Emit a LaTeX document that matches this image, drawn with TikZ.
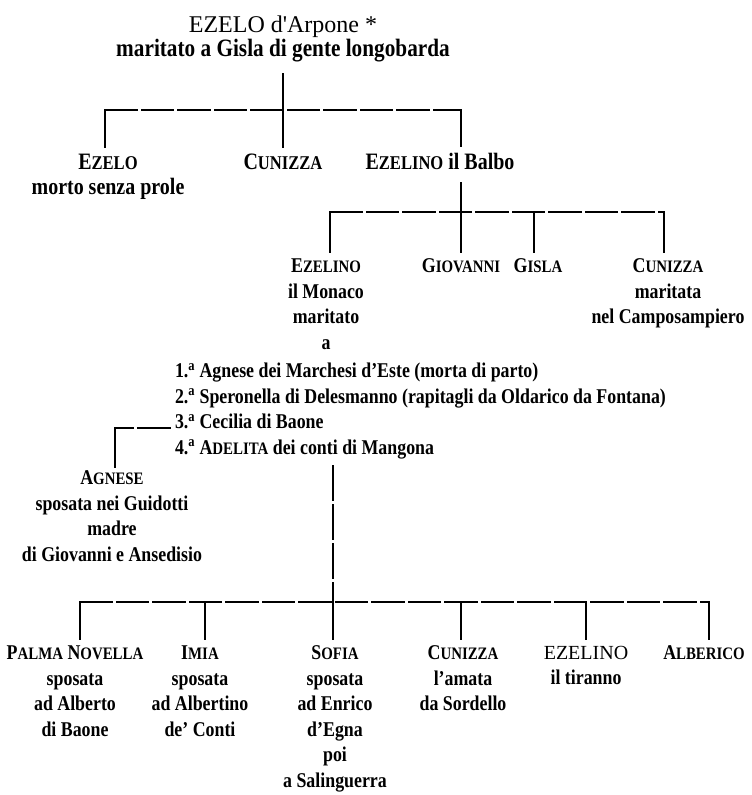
\documentclass[tikz,border=0pt]{standalone}
\usepackage{fontspec}
\setmainfont{Liberation Serif}[FakeStretch=0.85]
\newfontfamily\titlefont{Liberation Serif}
% small capitals made by hand
\def\scsize{17.5}
\newcommand{\scn}[2]{#1{\fontsize{\scsize}{\scsize}\selectfont #2}}

\begin{document}
\begin{tikzpicture}[x=1pt,y=-1pt,
    every node/.style={inner sep=0pt,outer sep=0pt,font=\fontsize{21}{25.5}\selectfont\bfseries},
    person/.style={anchor=north,align=center},
    elder/.style={person,font=\fontsize{23.5}{25}\selectfont\bfseries\def\scsize{19.5}},
    bar/.style={line width=1.8pt,line cap=rect,dash pattern=on 32pt off 4.5pt},
    drop/.style={line width=1.8pt,line cap=rect,shorten >=7pt},
    longline/.style={line width=1.8pt,dash pattern=on 36pt off 3pt}]
    \useasboundingbox (0,0) rectangle (752,795);

    % Ezelo d'Arpone
    \node[anchor=base,font=\fontsize{24}{28}\selectfont\titlefont] (arpone) at (283,32) {EZELO d'Arpone *};
    \node[anchor=base,font=\fontsize{25}{28}\selectfont\bfseries] (sposa) at (283,56) {maritato a Gisla di gente longobarda};

    \node[elder] (ezelo) at (108,154) {\scn{E}{ZELO}\\morto senza prole};
    \node[elder] (cunizzaA) at (283,154) {\scn{C}{UNIZZA}};
    \node[elder] (balbo) at (440,153) {\scn{E}{ZELINO} il Balbo};

    \coordinate (b1a) at (105,110);
    \coordinate (b1c) at (461,110);
    \draw[bar] (b1a) -- (b1c);
    \draw[drop] (b1a) -- (b1a |- ezelo.north);
    \draw[drop, shorten <=12pt] (sposa.south) -- (cunizzaA.north);
    \draw[drop] (b1c) -- (b1c |- balbo.north);

    % figli di Ezelino il Balbo
    \node[person] (monaco) at (326,259) {\scn{E}{ZELINO}\\il Monaco\\maritato\\a};
    \node[person] (giovanni) at (461,259) {\scn{G}{IOVANNI}};
    \node[person] (gislaB) at (538,259) {\scn{G}{ISLA}};
    \node[person] (cunizzaB) at (668,259) {\scn{C}{UNIZZA}\\maritata\\nel Camposampiero};

    \coordinate (b2a) at (330,212);
    \coordinate (b2b) at (461,212);
    \coordinate (b2c) at (534,212);
    \coordinate (b2d) at (664,212);
    \draw[bar] (b2a) -- (b2d);
    \draw[drop] (b2a) -- (b2a |- monaco.north);
    \draw[drop, shorten <=13pt] (balbo.south -| b2b) -- (b2b |- giovanni.north);
    \draw[drop] (b2c) -- (b2c |- gislaB.north);
    \draw[drop] (b2d) -- (b2d |- cunizzaB.north);

    % le mogli
    \node[anchor=north west,align=left] (mogli) at (175,363) {1.\textsuperscript{a} Agnese dei Marchesi d'Este (morta di parto)\\
        2.\textsuperscript{a} Speronella di Delesmanno (rapitagli da Oldarico da Fontana)\\
        3.\textsuperscript{a} Cecilia di Baone\\
        4.\textsuperscript{a} \scn{A}{DELITA} dei conti di Mangona};

    \coordinate (tre) at (170,428);
    \coordinate (agc) at (115,428);
    \node[person] (agnese) at (112,471) {\scn{A}{GNESE}\\sposata nei Guidotti\\madre\\di Giovanni e Ansedisio};
    \draw[bar] (tre) -- (agc);
    \draw[drop, shorten >=4pt] (agc) -- (agc |- agnese.north);

    % figli di Adelita
    \coordinate (m4) at (333,465);
    \node[person] (palma) at (75,646) {\scn{P}{ALMA} \scn{N}{OVELLA}\\sposata\\ad Alberto\\di Baone};
    \node[person] (imia) at (200,646) {\scn{I}{MIA}\\sposata\\ad Albertino\\de' Conti};
    \node[person] (sofia) at (335,646) {\scn{S}{OFIA}\\sposata\\ad Enrico\\d'Egna\\poi\\a Salinguerra};
    \node[person] (cunizzaC) at (463,646) {\scn{C}{UNIZZA}\\l'amata\\da Sordello};
    \node[person] (tiranno) at (586,646) {{\titlefont\mdseries\fontsize{20}{25.5}\selectfont EZELINO}\\il tiranno};
    \node[person] (alberico) at (704,646) {\scn{A}{LBERICO}};

    \coordinate (b3a) at (80,602);
    \coordinate (b3b) at (205,602);
    \coordinate (b3c) at (333,602);
    \coordinate (b3d) at (461,602);
    \coordinate (b3e) at (586,602);
    \coordinate (b3f) at (709,602);
    \draw[longline] (m4) -- (b3c);
    \draw[bar] (b3a) -- (b3f);
    \draw[drop] (b3a) -- (b3a |- palma.north);
    \draw[drop] (b3b) -- (b3b |- imia.north);
    \draw[drop] (b3c) -- (b3c |- sofia.north);
    \draw[drop] (b3d) -- (b3d |- cunizzaC.north);
    \draw[drop] (b3e) -- (b3e |- tiranno.north);
    \draw[drop] (b3f) -- (b3f |- alberico.north);
\end{tikzpicture}
\end{document}
